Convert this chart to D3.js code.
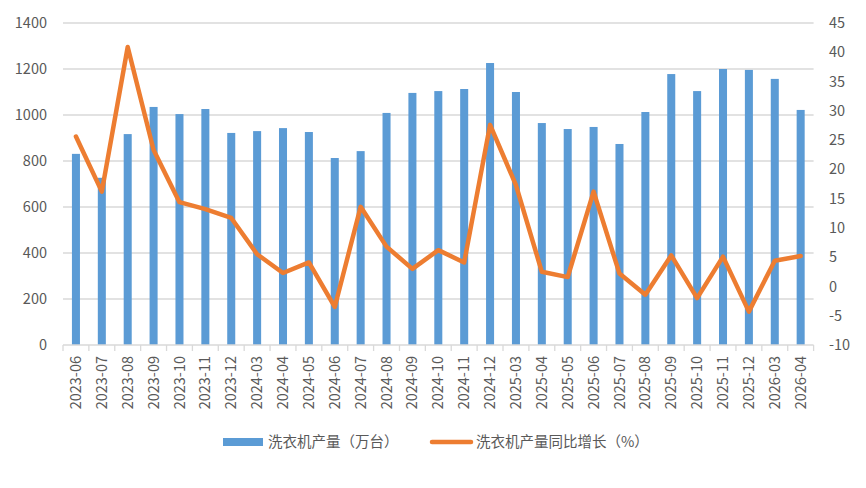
<!DOCTYPE html>
<html><head><meta charset="utf-8">
<script src="https://cdn.jsdelivr.net/npm/d3@7"></script>
<style>
html,body{margin:0;padding:0;background:#fff;}
text{font-family:"Microsoft YaHei","Noto Sans CJK SC","Noto Sans",sans-serif;fill:#595959;}
</style></head>
<body>
<svg id="chart" width="866" height="488"></svg>
<script>
const categories = ["2023-06","2023-07","2023-08","2023-09","2023-10","2023-11","2023-12",
  "2024-03","2024-04","2024-05","2024-06","2024-07","2024-08","2024-09","2024-10","2024-11","2024-12",
  "2025-03","2025-04","2025-05","2025-06","2025-07","2025-08","2025-09","2025-10","2025-11","2025-12",
  "2026-03","2026-04"];
const production = [831,727,917,1035,1004,1026,922,930,943,926,813,843,1009,1096,1104,1113,1226,
  1100,965,939,948,874,1013,1178,1104,1200,1196,1157,1022];
const yoyGrowth = [25.6,16.2,40.9,23.3,14.4,13.2,11.7,5.5,2.3,4.1,-3.5,13.6,6.8,3.0,6.2,4.1,27.6,
  17.3,2.5,1.6,16.2,2.2,-1.4,5.3,-2.0,5.1,-4.3,4.4,5.2];
const leftTicks = [0,200,400,600,800,1000,1200,1400];
const rightTicks = [-10,-5,0,5,10,15,20,25,30,35,40,45];
const seriesNames = ["洗衣机产量（万台）","洗衣机产量同比增长（%）"];

const svg = d3.select("#chart");
const L = 63, R = 813.6, T = 23, B = 345;
const x = d3.scaleBand().domain(categories).range([L, R]).paddingInner(0.69).paddingOuter(0.345);
const step = x.step();
const yL = d3.scaleLinear().domain([0,1400]).range([B, T]);
const yR = d3.scaleLinear().domain([-10,45]).range([B, T]);
const FS = 14.5;

// gridlines
svg.append("g").selectAll("line").data(leftTicks.slice(1)).join("line")
  .attr("x1", L).attr("x2", R).attr("y1", d=>yL(d)).attr("y2", d=>yL(d))
  .attr("stroke", "#d9d9d9").attr("stroke-width", 1.3);

// left labels
svg.append("g").selectAll("text").data(leftTicks).join("text")
  .attr("x", 47).attr("y", d=>yL(d)).attr("dy","0.35em").attr("text-anchor","end")
  .attr("font-size", FS).text(d=>d);
// right labels
svg.append("g").selectAll("text").data(rightTicks).join("text")
  .attr("x", 829).attr("y", d=>yR(d)).attr("dy","0.35em").attr("text-anchor","start")
  .attr("font-size", FS).text(d=>d);

// bars
svg.append("g").selectAll("rect").data(categories).join("rect")
  .attr("x", d=>x(d)).attr("width", x.bandwidth())
  .attr("y", (d,i)=>yL(production[i])).attr("height", (d,i)=>B - yL(production[i]))
  .attr("fill", "#5B9BD5");

// x axis line + ticks
svg.append("line").attr("x1", L).attr("x2", R).attr("y1", B).attr("y2", B)
  .attr("stroke", "#d9d9d9").attr("stroke-width", 1.3);
const bounds = d3.range(categories.length + 1).map(i => L + i*step);
svg.append("g").selectAll("line").data(bounds).join("line")
  .attr("x1", d=>d).attr("x2", d=>d).attr("y1", B).attr("y2", B+6)
  .attr("stroke", "#d9d9d9").attr("stroke-width", 1.3);

// x labels
svg.append("g").selectAll("text").data(categories).join("text")
  .attr("transform", d=>`translate(${x(d)+x.bandwidth()/2},356) rotate(-90)`)
  .attr("dy","0.35em").attr("text-anchor","end").attr("font-size", FS).text(d=>d);

// line
const line = d3.line().x((d,i)=>x(categories[i])+x.bandwidth()/2).y(d=>yR(d));
svg.append("path").datum(yoyGrowth).attr("d", line)
  .attr("fill","none").attr("stroke","#ED7D31").attr("stroke-width",4.5)
  .attr("stroke-linejoin","round").attr("stroke-linecap","round");

// legend
const lg = svg.append("g");
lg.append("rect").attr("x",223).attr("y",438).attr("width",40).attr("height",8).attr("fill","#5B9BD5");
lg.append("text").attr("x",268).attr("y",442).attr("dy","0.35em").attr("font-size",FS).text(seriesNames[0]);
lg.append("line").attr("x1",432).attr("x2",471).attr("y1",442).attr("y2",442)
  .attr("stroke","#ED7D31").attr("stroke-width",4.5).attr("stroke-linecap","round");
lg.append("text").attr("x",476).attr("y",442).attr("dy","0.35em").attr("font-size",FS).text(seriesNames[1]);
</script>
</body></html>
